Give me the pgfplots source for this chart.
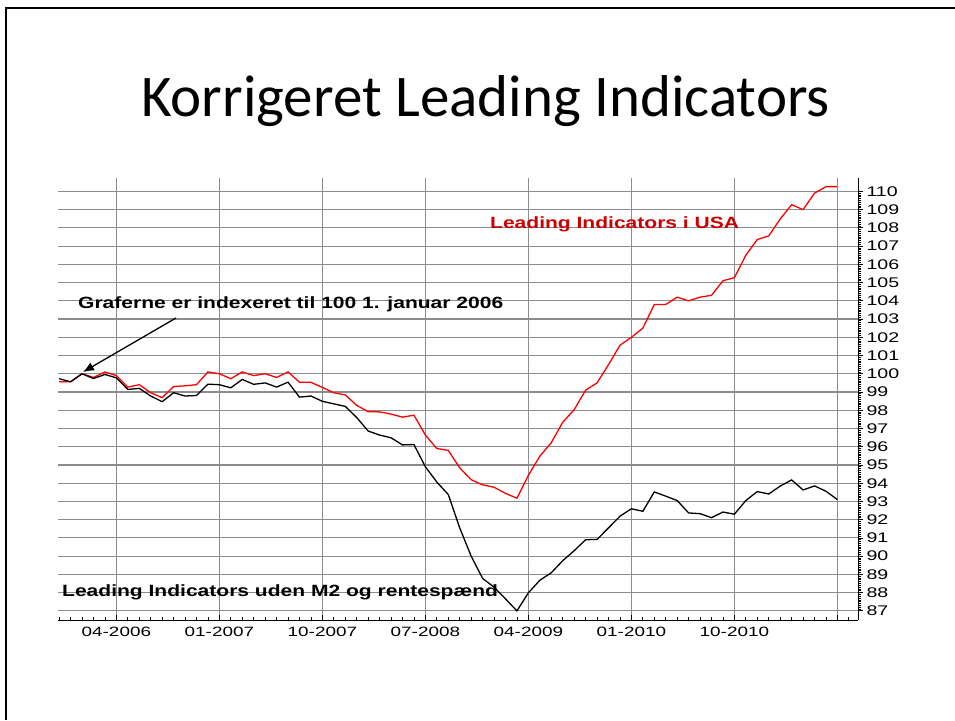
\documentclass[border=0pt]{standalone}
\usepackage{pgfplots}
\pgfplotsset{compat=1.18}
\usetikzlibrary{arrows.meta}
\usepackage{fontspec}
\setmainfont{Liberation Sans}
\newfontfamily\titlefont{Carlito}
\newfontfamily\tickfont[FakeStretch=1.4]{Liberation Sans}
\newfontfamily\annfont[FakeStretch=1.29]{Liberation Sans}
\definecolor{gridgray}{RGB}{140,140,140}
\definecolor{txtred}{RGB}{204,0,0}

\pgfplotstableread{
idx red black
0 99.56 99.73
1 99.56 99.56
2 100.0 100.0
3 99.8 99.74
4 100.1 99.96
5 99.9 99.78
6 99.27 99.14
7 99.4 99.2
8 98.96 98.78
9 98.69 98.47
10 99.3 98.96
11 99.34 98.78
12 99.4 98.81
13 100.1 99.43
14 100.0 99.4
15 99.73 99.23
16 100.1 99.69
17 99.9 99.42
18 100.0 99.5
19 99.8 99.27
20 100.1 99.54
21 99.54 98.72
22 99.53 98.78
23 99.25 98.49
24 98.96 98.35
25 98.84 98.21
26 98.27 97.6
27 97.92 96.86
28 97.91 96.64
29 97.79 96.49
30 97.62 96.1
31 97.73 96.12
32 96.64 94.9
33 95.9 94.06
34 95.8 93.38
35 94.84 91.55
36 94.19 90.0
37 93.91 88.78
38 93.78 88.3
39 93.44 87.66
40 93.18 87.0
41 94.43 87.99
42 95.48 88.68
43 96.22 89.09
44 97.34 89.75
45 98.03 90.3
46 99.1 90.9
47 99.5 90.92
48 100.5 91.55
49 101.56 92.19
50 102.0 92.6
51 102.5 92.46
52 103.8 93.52
53 103.8 93.29
54 104.2 93.05
55 104.0 92.37
56 104.2 92.33
57 104.3 92.11
58 105.1 92.42
59 105.27 92.3
60 106.5 93.05
61 107.36 93.54
62 107.56 93.41
63 108.48 93.84
64 109.27 94.18
65 109.0 93.63
66 109.9 93.85
67 110.26 93.56
68 110.26 93.1
}\datatable

\begin{document}
\begin{tikzpicture}[x=1pt,y=1pt]
\useasboundingbox (0,0) rectangle (955,720);
% slide frame
\draw[line width=2pt] (6,0) -- (6,712) -- (955,712);
% title
\node[anchor=base, inner sep=0pt, font=\titlefont\fontsize{59}{66}\selectfont] at (485.5,603) {Korrigeret Leading Indicators};

\begin{axis}[
  at={(58pt,100pt)}, anchor=south west,
  scale only axis, width=800pt, height=442.3pt,
  xmin=-0.1, xmax=69.8, ymin=86.5, ymax=110.75,
  axis x line*=bottom, axis y line*=right,
  axis line style={-, black, line width=0.9pt},
  xtick={5,14,23,32,41,50,59,68},
  xticklabels={04-2006,01-2007,10-2007,07-2008,04-2009,01-2010,10-2010,{}},
  minor xtick={0,...,69},
  xtick align=inside,
  ytick={87,...,110},
  minor y tick num=9,
  ytick align=outside,
  major tick length=5pt, minor tick length=3pt,
  tick style={black, line width=0.8pt},
  xmajorgrids, ymajorgrids,
  major grid style={gridgray, line width=1.1pt},
  /pgf/number format/assume math mode=true,
  xticklabel style={font=\tickfont\fontsize{13.5}{14}\selectfont, yshift=-4pt},
  yticklabel style={font=\tickfont\fontsize{14}{15}\selectfont, anchor=west, xshift=0pt},
  clip=false,
]
\addplot[red, line width=1.3pt] table[x=idx, y=red] {\datatable};
\addplot[black, line width=1.3pt] table[x=idx, y=black] {\datatable};
\end{axis}

\node[anchor=base west, inner sep=0pt, font=\annfont\bfseries\fontsize{16.3}{18}\selectfont] at (78,411) {Graferne er indexeret til 100 1. januar 2006};
\node[anchor=base west, inner sep=0pt, text=txtred, font=\annfont\bfseries\fontsize{16.3}{18}\selectfont] at (490,491) {Leading Indicators i USA};
\node[anchor=base west, inner sep=0pt, font=\annfont\bfseries\fontsize{16.3}{18}\selectfont] at (62,123) {Leading Indicators uden M2 og rentespænd};
\draw[black, line width=1.3pt, -{Latex[length=11pt,width=9pt]}] (176,402) -- (83,348);
\end{tikzpicture}
\end{document}
